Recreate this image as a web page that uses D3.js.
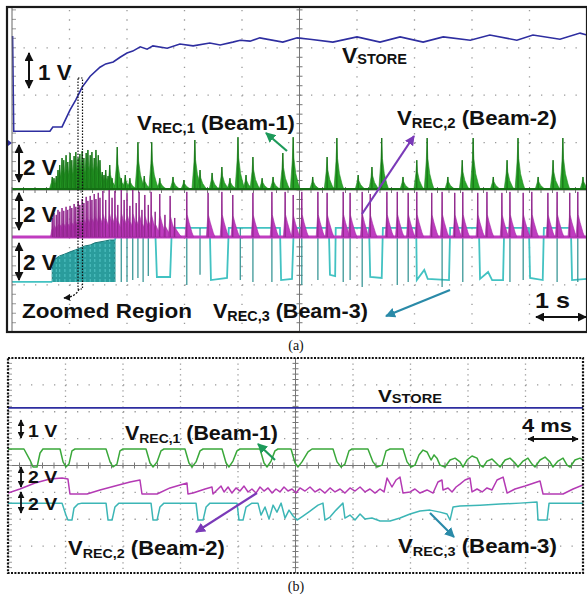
<!DOCTYPE html>
<html lang="en">
<head>
<meta charset="UTF-8" />
<title>Scope capture</title>
<script src="https://cdn.jsdelivr.net/npm/d3@7"></script>
<style>
  body { margin: 0; background: #fff; }
  text { font-family: "Liberation Sans", Arial, sans-serif; font-weight: bold; fill: #111; }
  .cap { font-family: "Liberation Serif", "Times New Roman", serif; font-weight: normal; }
</style>
</head>
<body>
<div id="chart"></div>
<script>
// ---------- panel (a): 1 s/div, time in s, values in V ----------
const storeA = [[0.01,2.26],[0.03,0.25],[0.66,0.25],[0.71,0.34],[0.87,0.34],[1.01,0.70],[1.11,0.91],[1.22,1.18],
  [1.36,1.41],[1.53,1.60],[1.63,1.67],[1.76,1.71],[1.88,1.81],[2.0,1.90],[2.10,1.94],[2.23,2.03],[2.35,1.98],
  [2.45,2.05],[2.70,2.00],[2.92,2.09],[3.15,2.05],[3.44,2.11],[3.62,2.07],[3.84,2.13],[3.97,2.17],[4.14,2.15],
  [4.31,2.22],[4.71,2.13],[4.96,2.22],[5.18,2.19],[5.58,2.13],[6.0,2.24],[6.4,2.13],[6.75,2.24],[7.15,2.13],
  [7.50,2.24],[7.97,2.17],[8.31,2.28],[8.78,2.17],[9.06,2.28],[9.53,2.19],[9.88,2.32],[10,2.28]]

// V_REC,1 spikes [t, peak V]
const rec1A = [[0.70,0.51],[0.73,0.46],[0.77,0.55],[0.80,0.80],[0.83,1.01],[0.87,1.31],[0.90,1.22],[0.94,1.43],
  [0.97,1.14],[1.01,1.52],[1.04,1.22],[1.08,1.39],[1.11,1.56],[1.15,1.31],[1.18,1.48],[1.22,1.60],[1.25,1.31],
  [1.29,1.52],[1.32,1.65],[1.36,1.43],[1.39,1.56],[1.43,1.31],[1.46,1.65],[1.50,1.43],[1.53,1.22],[1.57,0.72],
  [1.60,0.59],[1.63,0.80],[1.67,0.55],[1.70,1.01],[1.74,0.46],[1.83,1.77],[1.90,0.46],[1.97,0.59],[2.05,0.46],
  [2.19,1.98],[2.30,0.55],[2.43,1.98],[2.57,0.46],[2.80,0.51],[2.99,0.38],[3.18,2.07],[3.27,0.80],[3.48,0.68],
  [3.65,0.93],[3.79,0.46],[3.93,2.19],[4.07,0.59],[4.19,1.35],[4.35,0.46],[4.54,0.51],[4.71,1.52],[4.89,2.19],
  [5.23,0.51],[5.48,1.35],[5.65,2.15],[6.02,0.59],[6.26,0.93],[6.43,2.15],[6.80,0.51],[7.04,1.22],[7.22,2.15],
  [7.58,0.51],[7.83,1.22],[8.02,2.15],[8.37,0.51],[8.61,1.22],[8.80,2.15],[9.15,0.51],[9.41,1.22],[9.58,2.15],
  [9.93,0.51]]

// V_REC,2 spikes [t, peak V]
const rec2A = [[0.70,0.80],[0.73,1.01],[0.77,0.93],[0.80,1.14],[0.83,1.06],[0.87,1.22],[0.90,1.10],[0.94,1.27],
  [0.97,1.14],[1.01,1.31],[1.04,1.22],[1.08,1.39],[1.11,1.27],[1.15,1.52],[1.18,1.35],[1.22,1.60],[1.25,1.43],
  [1.29,1.69],[1.32,1.52],[1.36,1.73],[1.39,1.56],[1.43,1.81],[1.46,1.60],[1.50,1.86],[1.53,1.65],[1.58,1.94],
  [1.63,1.56],[1.69,1.98],[1.74,1.65],[1.79,1.94],[1.84,1.35],[1.90,1.98],[1.95,1.56],[2.0,1.86],[2.05,1.31],
  [2.10,1.98],[2.16,1.43],[2.21,1.90],[2.26,1.14],[2.31,1.77],[2.37,1.35],[2.42,1.90],[2.49,1.06],[2.57,1.81],
  [2.66,0.93],[2.75,1.73],[2.83,0.80],[3.04,1.90],[3.41,1.86],[3.65,1.90],[3.84,1.77],[4.19,1.86],[4.52,1.90],
  [4.75,1.90],[4.89,1.77],[5.04,1.90],[5.32,1.90],[5.48,1.86],[5.76,1.90],[5.88,1.86],[6.09,1.90],[6.23,1.81],
  [6.52,1.90],[6.70,1.90],[6.89,1.86],[7.04,1.90],[7.30,1.86],[7.48,1.90],[7.70,1.86],[7.84,1.90],[8.10,1.86],
  [8.26,1.90],[8.52,1.86],[8.66,1.90],[8.89,1.86],[9.04,1.90],[9.32,1.86],[9.48,1.90],[9.70,1.86],[9.84,1.90]]

// V_REC,3: burst envelope, trace pieces, and short drop-outs [t, lowest V]
const rec3Burst = [[0.70,0],[0.70,0.84],[0.77,1.01],[0.83,1.10],[0.92,1.18],[1.01,1.27],[1.10,1.35],[1.18,1.43],
  [1.27,1.52],[1.36,1.56],[1.44,1.65],[1.53,1.69],[1.62,1.73],[1.70,1.77],[1.79,1.77],[1.79,0]]
const rec3Pre = [[0,0],[0.70,0]]
const rec3A = [[1.79,1.77],[1.84,2.28],[2.49,2.28],[2.52,0.21],[2.75,0.21],[2.78,2.28],[3.44,2.28],
  [3.46,0.08],[3.74,0.17],[3.77,2.28],[4.66,2.28],[4.68,0.08],[4.87,0.13],[4.90,2.28],[5.51,2.28],[5.53,0.30],
  [5.62,0.25],[5.63,2.28],[6.21,2.28],[6.23,0.21],[6.43,0.17],[6.45,2.28],[7.03,2.28],[7.04,0.08],[7.17,0.51],
  [7.23,0.13],[7.60,0.08],[7.62,2.28],[8.12,2.28],[8.14,0.13],[8.28,0.42],[8.35,0.08],[8.54,0.08],[8.56,2.28],
  [8.99,2.28],[9.01,0.17],[9.23,0.08],[9.25,2.28],[9.72,2.28],[9.74,0.08],[10,0.13]]
const rec3Drops = [[1.90,0],[2.0,0],[2.10,0.08],[2.19,0.17],[2.28,0],[2.37,0.25],[3.04,-0.13],[3.27,0.30],
  [3.97,0.08],[4.19,0],[4.52,0],[5.04,-0.13],[5.32,0.08],[5.76,0],[5.88,0.08],[6.09,-0.21],[6.70,-0.13],
  [6.89,0],[7.48,-0.21],[7.84,0],[8.66,0],[8.89,0.08],[9.48,0],[9.84,0]]
const rec3High = 2.28

// ---------- panel (b): 4 ms/div, time in ms, values in V ----------
const storeB = [[0,2.2],[40,2.2]]
const rec1B = [[0,0.67],[1.11,0.67],[1.53,0.26],[1.74,0],[2.02,0],[2.23,0.52],[2.43,0.67],[3.62,0.67],[3.83,0.19],
  [4.03,0],[4.24,0.11],[4.45,0.60],[4.66,0.67],[6.82,0.67],[7.10,0.19],[7.30,0],[7.58,0.11],[7.79,0.60],[8.0,0.67],
  [9.60,0.67],[9.88,0.15],[10.09,0],[10.37,0.19],[10.64,0.60],[10.85,0.67],[12.31,0.67],[12.59,0.15],[12.80,0],
  [13.08,0.19],[13.36,0.60],[13.57,0.67],[14.89,0.67],[15.17,0.15],[15.37,0],[15.65,0.22],[15.93,0.60],[16.14,0.67],
  [17.53,0.67],[17.81,0.15],[18.02,0],[18.30,0.22],[18.57,0.60],[18.78,0.67],[19.69,0.67],[19.97,0.15],[20.17,0],
  [20.45,0.19],[20.87,0.56],[21.15,0.67],[22.61,0.67],[22.89,0.19],[23.17,0],[23.44,0.11],[23.72,0.60],[23.93,0.67],
  [25.04,0.67],[25.39,0.19],[25.67,0],[26.02,0.07],[26.30,0.60],[26.58,0.67],[27.48,0.67],[27.76,0.19],[28.04,0],
  [28.31,0.07],[28.59,0.45],[28.87,0.63],[29.15,0.56],[29.43,0.26],[29.64,0.45],[29.84,0.33],[30.05,0.07],[30.40,0],
  [30.75,0.26],[31.10,0.33],[31.44,0.19],[31.65,0],[31.93,0.26],[32.28,0.41],[32.63,0.33],[32.84,0.07],[33.05,0],
  [33.32,0.22],[33.67,0.30],[34.02,0.11],[34.23,0],[34.58,0.26],[34.92,0.33],[35.27,0.15],[35.48,0],[35.83,0.22],
  [36.17,0.33],[36.45,0.11],[36.66,0],[37.01,0.26],[37.36,0.37],[37.70,0.19],[37.91,0],[38.26,0.22],[38.61,0.33],
  [38.89,0.07],[39.10,0],[39.44,0.26],[39.79,0.33],[40,0.26]]
const rec2B = [[0,0.07],[0.83,0.37],[1.88,0.82],[2.92,1.11],[3.76,1.19],[4.17,1.11],[4.31,0],[5.50,0],[6.40,0.30],
  [7.44,0.59],[8.49,0.89],[9.18,1.04],[9.32,0],[10.37,0],[11.27,0.45],[12.45,0.82],[12.52,0],[12.87,0.07],[13.71,0.37],
  [14.19,0.52],[14.26,0],[14.54,0.30],[14.82,0.59],[15.03,0.15],[15.31,0.52],[15.58,0.07],[15.86,0.45],[16.14,0.22],
  [16.42,0.59],[16.70,0.15],[16.97,0.37],[17.25,0.07],[17.53,0.52],[17.81,0.22],[18.09,0.45],[18.37,0.07],[18.64,0.37],
  [18.92,0.15],[19.20,0.52],[19.48,0.22],[19.76,0.37],[20.04,0.07],[20.31,0.45],[20.66,0.22],[21.01,0.52],[21.36,0.15],
  [21.70,0.37],[22.05,0.07],[22.40,0.45],[22.75,0.15],[23.10,0.37],[23.44,0.07],[23.79,0.45],[24.14,0.22],[24.49,0.52],
  [24.84,0.15],[25.18,0.37],[25.53,0.07],[25.88,0.37],[26.16,0.15],[26.37,1.19],[26.71,0.52],[26.99,1.04],[27.27,1.26],
  [27.48,0.07],[27.97,0.15],[28.31,0.37],[28.66,0.07],[29.15,0.30],[29.57,0.07],[29.91,0.89],[30.19,1.04],[30.26,0.30],
  [30.61,0.45],[30.89,0.15],[31.17,0.52],[31.44,0.74],[31.79,1.04],[32.14,1.19],[32.28,0.15],[32.63,0.37],[32.98,0.15],
  [33.32,0.45],[33.67,0.30],[34.02,1.04],[34.44,1.26],[34.72,0.07],[35.27,0.37],[35.97,0.59],[36.80,0.89],[37.01,0.97],
  [37.22,0],[38.61,0],[39.31,0.37],[40,0.67]]
const rec3B = [[0,1.26],[3.76,1.26],[4.03,0.37],[4.17,0],[4.45,0],[4.59,0.89],[4.87,1.19],[5.15,1.26],[6.82,1.26],
  [6.96,0],[7.24,0],[7.44,0.97],[7.72,1.26],[9.95,1.26],[10.09,0],[10.37,0],[10.57,0.97],[10.85,1.26],[13.08,1.26],
  [13.22,0],[13.57,0],[13.78,0.97],[14.05,1.26],[15.93,1.26],[16.07,0],[16.35,0],[16.56,0.97],[16.97,1.26],[17.39,1.26],
  [17.60,0.37],[17.88,0.97],[18.16,0.07],[18.44,1.11],[18.71,0.59],[19.0,1.26],[19.27,0.15],[19.55,0.74],[19.83,0.30],
  [20.11,0],[20.52,0.30],[21.01,0.67],[21.57,1.11],[21.91,1.26],[22.05,0],[22.40,0.22],[22.82,0.74],[23.30,1.26],
  [23.44,0.15],[23.79,0.37],[24.14,0],[24.49,0.45],[24.84,0.07],[25.32,0.15],[25.88,-0.07],[26.58,-0.07],[27.27,0.15],
  [27.97,0.45],[28.66,0.67],[29.36,0.74],[30.05,0.59],[30.54,0.45],[30.75,0],[30.96,0.97],[31.44,1.04],[32.84,1.11],
  [34.23,1.19],[35.62,1.26],[36.80,1.34],[36.87,0],[37.50,0],[37.64,1.26],[40,1.26]]

// channel settings: volts per division and ground offset in divisions
const chA = { store: [1, 0.99], rec1: [2, 0.02], rec2: [2, -0.99], rec3: [2, -1.94] }
const chB = { store: [1, -0.056], rec1: [1, -0.056], rec2: [2, -1.06], rec3: [2, -2.03] }

const colors = { store: '#2e2ea0', rec1: '#2aa52a', rec1d: '#146e14', rec2: '#c03cc0', rec2d: '#84207f',
  rec3: '#42c2c2', rec3d: '#1f8080' }

const svg = d3.select('#chart').append('svg').attr('width', 587).attr('height', 594)
svg.append('rect').attr('width', 587).attr('height', 594).attr('fill', '#fff')
const defs = svg.append('defs')

function marker(id, color, size) {
  defs.append('marker').attr('id', id).attr('viewBox', '0 0 10 10').attr('refX', 9).attr('refY', 5)
    .attr('markerWidth', size).attr('markerHeight', size).attr('markerUnits', 'userSpaceOnUse')
    .attr('orient', 'auto-start-reverse')
    .append('path').attr('d', 'M0,0L10,5L0,10Z').attr('fill', color)
}
marker('hk', '#111', 9)
marker('hk2', '#111', 7)
marker('hg', '#1d9a5a', 10)
marker('hp', '#7a3ab8', 10)
marker('ht', '#2a8aa8', 10)

function arrow(g, x1, y1, x2, y2, id, w, both) {
  g.append('line').attr('x1', x1).attr('y1', y1).attr('x2', x2).attr('y2', y2)
    .attr('stroke', d3.select('#' + id + ' path').attr('fill')).attr('stroke-width', w)
    .attr('marker-end', `url(#${id})`).attr('marker-start', both ? `url(#${id})` : null)
}

function label(g, x, y, parts, width) {
  const t = g.append('text').attr('transform', `translate(${x},${y})`)
  parts.forEach(([s, size, dy]) => t.append('tspan').attr('font-size', size).attr('dy', dy).text(s))
  const w = t.node().getBBox().width
  t.attr('transform', `translate(${x},${y}) scale(${width / w},1)`)
}

function grid(g, x, y, xDivs, yDivs) {
  const [x0, x1] = x.range(), [y1, y0] = y.range()
  const dx = (x1 - x0) / xDivs / 5, dy = (y1 - y0) / (yDivs[1] - yDivs[0]) / 5
  d3.range(1, xDivs).filter(i => i !== xDivs / 2).forEach(i => {
    g.append('line').attr('x1', x0 + i * dx * 5).attr('x2', x0 + i * dx * 5).attr('y1', y0).attr('y2', y1)
      .attr('stroke', '#999').attr('stroke-width', 1.3).attr('stroke-dasharray', `1.3 ${dy - 1.3}`)
  })
  d3.range(yDivs[0] + 1, yDivs[1]).filter(d => d !== 0).forEach(d => {
    g.append('line').attr('x1', x0).attr('x2', x1).attr('y1', y(d)).attr('y2', y(d))
      .attr('stroke', '#999').attr('stroke-width', 1.3).attr('stroke-dasharray', `1.3 ${dx - 1.3}`)
  })
  const xm = x0 + (x1 - x0) / 2
  g.append('line').attr('x1', xm).attr('x2', xm).attr('y1', y0).attr('y2', y1).attr('stroke', '#777')
  g.append('line').attr('x1', x0).attr('x2', x1).attr('y1', y(0)).attr('y2', y(0)).attr('stroke', '#777')
  d3.range(y0, y1, dy).forEach(v => {
    g.append('line').attr('x1', xm - 3).attr('x2', xm + 3).attr('y1', v).attr('y2', v).attr('stroke', '#777')
    g.append('line').attr('x1', x0).attr('x2', x0 + 4).attr('y1', v).attr('y2', v).attr('stroke', '#999')
  })
  d3.range(x0, x1, dx).forEach(v => {
    g.append('line').attr('x1', v).attr('x2', v).attr('y1', y(0) - 3).attr('y2', y(0) + 3).attr('stroke', '#777')
  })
}

// ================= panel (a) =================
const xA = d3.scaleLinear().domain([0, 10]).range([12, 587])
const yA = d3.scaleLinear().domain([-3, 4]).range([332.2, 0.4])
const vA = k => v => yA(chA[k][1] + v / chA[k][0])
const spike = (y, shape) => ([t, v]) => 'M' + shape.map(([dt, k]) => [xA(t + dt), y(v * k)].join(',')).join('L') + 'Z'

defs.append('clipPath').attr('id', 'clipA').append('rect').attr('x', 8).attr('y', 8).attr('width', 579).attr('height', 323)
const gA = svg.append('g')
const plotA = gA.append('g').attr('clip-path', 'url(#clipA)')
grid(plotA, xA, yA, 10, [-3, 4])

// V_REC,3 (cyan)
const y3 = vA('rec3')
const line3 = d3.line().x(d => xA(d[0])).y(d => y3(d[1]))
plotA.append('path').attr('d', line3(rec3Pre)).attr('fill', 'none').attr('stroke', colors.rec3).attr('stroke-width', 1.8)
plotA.append('path').attr('d', line3(rec3Burst))
  .attr('fill', '#2a9c9c').attr('stroke', '#1b7777').attr('stroke-width', 1)
plotA.selectAll('.burst3').data(rec3Burst.slice(1, -1)).join('line')
  .attr('x1', d => xA(d[0])).attr('x2', d => xA(d[0])).attr('y1', y3(0)).attr('y2', d => y3(d[1]))
  .attr('stroke', '#5fd0d0').attr('stroke-width', 0.8).attr('stroke-dasharray', '3 2')
plotA.append('path').attr('d', line3(rec3A))
  .attr('fill', 'none').attr('stroke', colors.rec3).attr('stroke-width', 1.8)
plotA.selectAll('.drop3').data(rec3Drops).join('line')
  .attr('x1', d => xA(d[0])).attr('x2', d => xA(d[0])).attr('y1', y3(rec3High)).attr('y2', d => y3(d[1]))
  .attr('stroke', '#2b8f8f').attr('stroke-width', 1.2)

// V_REC,2 (magenta)
const y2 = vA('rec2')
const shape2 = [[-0.03, 0], [-0.006, 0.45], [0, 1], [0.006, 0.5], [0.04, 0.32], [0.09, 0.1], [0.12, 0]]
plotA.append('line').attr('x1', xA(0)).attr('x2', xA(10)).attr('y1', y2(0)).attr('y2', y2(0))
  .attr('stroke', colors.rec2).attr('stroke-width', 3)
plotA.selectAll('.sp2').data(rec2A).join('path').attr('d', spike(y2, shape2))
  .attr('fill', colors.rec2).attr('stroke', '#a52aa5').attr('stroke-width', 0.6)
plotA.selectAll('.ln2').data(rec2A).join('line')
  .attr('x1', d => xA(d[0])).attr('x2', d => xA(d[0])).attr('y1', y2(0)).attr('y2', d => y2(d[1]))
  .attr('stroke', colors.rec2d).attr('stroke-width', 1)

// V_REC,1 (green)
const y1 = vA('rec1')
const shape1 = [[-0.05, 0], [-0.015, 0.55], [0, 1], [0.012, 0.6], [0.045, 0.3], [0.09, 0.1], [0.12, 0]]
plotA.selectAll('.sp1').data(rec1A).join('path').attr('d', spike(y1, shape1))
  .attr('fill', colors.rec1).attr('stroke', '#1f8a1f').attr('stroke-width', 0.6)
plotA.selectAll('.ln1').data(rec1A).join('line')
  .attr('x1', d => xA(d[0])).attr('x2', d => xA(d[0])).attr('y1', y1(0)).attr('y2', d => y1(d[1]))
  .attr('stroke', colors.rec1d).attr('stroke-width', 1.1)
plotA.append('line').attr('x1', xA(0)).attr('x2', xA(10)).attr('y1', y1(0)).attr('y2', y1(0))
  .attr('stroke', colors.rec1d).attr('stroke-width', 2)

// V_STORE
const ys = vA('store')
plotA.append('path').attr('d', d3.line().x(d => xA(d[0])).y(d => ys(d[1]))(storeA))
  .attr('fill', 'none').attr('stroke', colors.store).attr('stroke-width', 1.6)
plotA.append('path').attr('d', `M8,${ys(0) - 3}L12,${ys(0)}L8,${ys(0) + 3}Z`).attr('fill', colors.store)

// frame
gA.append('line').attr('x1', 12).attr('x2', 12).attr('y1', 8).attr('y2', 331).attr('stroke', '#666')
gA.append('rect').attr('x', 7).attr('y', 7).attr('width', 580).attr('height', 325)
  .attr('fill', 'none').attr('stroke', '#1a1a1a').attr('stroke-width', 2.2)

// zoomed region marker
gA.append('rect').attr('x', 78).attr('y', 78).attr('width', 4.5).attr('height', 211)
  .attr('fill', 'none').attr('stroke', '#111').attr('stroke-width', 1.2).attr('stroke-dasharray', '1.5 1.5')
gA.append('path').attr('d', 'M79,289Q76,297 64,298').attr('fill', 'none').attr('stroke', '#111')
  .attr('stroke-width', 1.3).attr('stroke-dasharray', '2 1.5').attr('marker-end', 'url(#hk2)')

// annotations (a)
arrow(gA, 29, 53, 29, 88, 'hk', 2, true)
label(gA, 38, 80, [['1 V', 22, 0]], 34)
arrow(gA, 19, 145, 19, 182, 'hk', 2, true)
label(gA, 23, 175, [['2 V', 22, 0]], 34)
arrow(gA, 19, 193, 19, 230, 'hk', 2, true)
label(gA, 23, 222, [['2 V', 22, 0]], 34)
arrow(gA, 19, 243, 19, 280, 'hk', 2, true)
label(gA, 23, 270, [['2 V', 22, 0]], 34)
label(gA, 22, 318, [['Zoomed Region', 21, 0]], 170)
label(gA, 137, 130, [['V', 21, 0], ['REC,1', 14, 3], [' (Beam-1)', 21, -3]], 158)
label(gA, 342, 63, [['V', 22, 0], ['STORE', 14, 1]], 65)
label(gA, 397, 125, [['V', 21, 0], ['REC,2', 14, 3], [' (Beam-2)', 21, -3]], 160)
label(gA, 213, 318, [['V', 21, 0], ['REC,3', 14, 3], [' (Beam-3)', 21, -3]], 155)
label(gA, 535, 308, [['1 s', 22, 0]], 35)
arrow(gA, 536, 317, 586, 317, 'hk', 2, true)
arrow(gA, 287, 151, 266, 133, 'hg', 2.2, false)
arrow(gA, 362, 214, 414, 136, 'hp', 2.2, false)
arrow(gA, 450, 290, 386, 316, 'ht', 2.2, false)

svg.append('text').attr('class', 'cap').attr('x', 296).attr('y', 350).attr('text-anchor', 'middle')
  .attr('font-size', 14).text('(a)')

// ================= panel (b) =================
const xB = d3.scaleLinear().domain([0, 40]).range([8, 583])
const yB = d3.scaleLinear().domain([-4, 4]).range([573, 358])
const vB = k => v => yB(chB[k][1] + v / chB[k][0])

defs.append('clipPath').attr('id', 'clipB').append('rect').attr('x', 8).attr('y', 358).attr('width', 575).attr('height', 215)
const gB = svg.append('g')
const plotB = gB.append('g').attr('clip-path', 'url(#clipB)')
grid(plotB, xB, yB, 10, [-4, 4])

const traceB = (data, k, color, w) => plotB.append('path')
  .attr('d', d3.line().x(d => xB(d[0])).y(d => vB(k)(d[1]))(data))
  .attr('fill', 'none').attr('stroke', color).attr('stroke-width', w).attr('stroke-linejoin', 'round')
traceB(storeB, 'store', colors.store, 1.6)
traceB(rec1B, 'rec1', '#3aa83a', 1.5)
traceB(rec2B, 'rec2', '#b43ab4', 1.5)
traceB(rec3B, 'rec3', '#3cb6b6', 1.5)

gB.append('rect').attr('x', 8).attr('y', 358).attr('width', 575).attr('height', 215)
  .attr('fill', 'none').attr('stroke', '#111').attr('stroke-width', 2.2).attr('stroke-dasharray', '2 1.4')

arrow(gB, 21, 420, 21, 438, 'hk2', 1.8, true)
label(gB, 28, 437, [['1 V', 17, 0]], 30)
arrow(gB, 21, 467, 21, 487, 'hk2', 1.8, true)
label(gB, 28, 483, [['2 V', 17, 0]], 30)
arrow(gB, 21, 492, 21, 513, 'hk2', 1.8, true)
label(gB, 28, 510, [['2 V', 17, 0]], 30)
label(gB, 378, 402, [['V', 17, 0], ['STORE', 12, 1]], 64)
label(gB, 522, 432, [['4 ms', 18, 0]], 50)
arrow(gB, 528, 439, 578, 439, 'hk2', 2, true)
label(gB, 125, 440, [['V', 20, 0], ['REC,1', 13, 3], [' (Beam-1)', 20, -3]], 153)
label(gB, 68, 555, [['V', 20, 0], ['REC,2', 13, 3], [' (Beam-2)', 20, -3]], 157)
label(gB, 398, 553, [['V', 20, 0], ['REC,3', 13, 3], [' (Beam-3)', 20, -3]], 159)
arrow(gB, 275, 460, 258, 444, 'hg', 2.2, false)
arrow(gB, 257, 493, 196, 532, 'hp', 2.2, false)
arrow(gB, 430, 513, 454, 537, 'ht', 2.2, false)

svg.append('text').attr('class', 'cap').attr('x', 296).attr('y', 591).attr('text-anchor', 'middle')
  .attr('font-size', 14).text('(b)')
</script>
</body>
</html>
